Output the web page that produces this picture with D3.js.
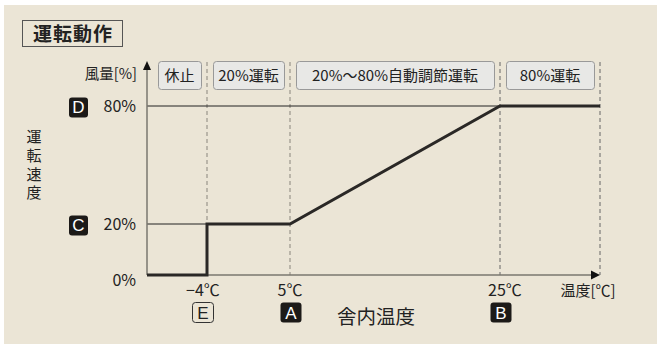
<!DOCTYPE html>
<html>
<head>
<meta charset="utf-8">
<script src="https://cdn.jsdelivr.net/npm/d3@7"></script>
<style>
  body { margin: 0; background: #fff; }
  svg { display: block; font-family: "Noto Sans CJK JP", "Noto Sans", sans-serif; }
</style>
</head>
<body>
<div id="chart"></div>
<script>
// Data
const tempTicks = [-4, 5, 25];                  // °C marks on the x axis
const tempLabels = ["−4℃", "5℃", "25℃"];
const tempBadges = ["E", "A", "B"];
const speedTicks = [0, 20, 80];                 // % marks on the y axis
const speedLabels = ["0%", "20%", "80%"];
const speedBadges = [null, "C", "D"];
const curveTemp = [-10, -4, -4, 5, 25, 35];     // operating curve
const curveSpeed = [0, 0, 20, 20, 80, 80];
const zoneNames = ["休止", "20%運転", "20%～80%自動調節運転", "80%運転"];
const zoneStart = [-10, -4, 5, 25];
const zoneEnd = [-4, 5, 25, 35];

const width = 657, height = 344;

const svg = d3.select("#chart").append("svg")
    .attr("width", width)
    .attr("height", height);

// beige panel
svg.append("rect")
    .attr("x", 4).attr("y", 5)
    .attr("width", width - 4).attr("height", height - 5)
    .attr("fill", "#ebe5d6");

// Scales (the picture is not to scale, so piecewise)
const x = d3.scaleLinear()
    .domain([-10, -4, 5, 25, 35])
    .range([147, 207, 290, 500, 600]);
const y = d3.scaleLinear()
    .domain([0, 20, 80])
    .range([275, 224, 106]);

// Title box
svg.append("rect")
    .attr("x", 22.5).attr("y", 20.5)
    .attr("width", 100).attr("height", 26)
    .attr("fill", "none")
    .attr("stroke", "#555")
    .attr("stroke-width", 1);
svg.append("text")
    .attr("x", 73).attr("y", 41)
    .attr("text-anchor", "middle")
    .attr("font-size", "19px")
    .attr("font-weight", "bold")
    .attr("fill", "#222")
    .attr("letter-spacing", "1px")
    .text("運転動作");

// Dashed zone boundaries
const bounds = [-4, 5, 25, 35];
svg.selectAll(".bound")
    .data(bounds)
    .enter().append("line")
    .attr("x1", d => x(d)).attr("x2", d => x(d))
    .attr("y1", 62)
    .attr("y2", d => d === -4 ? y(20) : y(0))
    .attr("stroke", d => d > 5 ? "#666" : "#aaa59a")
    .attr("stroke-width", d => d > 5 ? 1 : 1.5)
    .attr("stroke-dasharray", "4,3");

// Zone label boxes
const zones = zoneNames.map((name, i) => ({ name, s: zoneStart[i], e: zoneEnd[i] }));
const padL = d => d.s === -10 ? 11 : 6;
const zoneG = svg.selectAll(".zone")
    .data(zones)
    .enter().append("g");
zoneG.append("rect")
    .attr("x", d => x(d.s) + padL(d) + 0.5)
    .attr("y", 61.5)
    .attr("width", d => x(d.e) - x(d.s) - padL(d) - 6)
    .attr("height", 28)
    .attr("rx", 3)
    .attr("fill", "#e8e8e6")
    .attr("stroke", "#999")
    .attr("stroke-width", 1);
zoneG.append("text")
    .attr("x", d => (x(d.s) + padL(d) + x(d.e) - 6) / 2)
    .attr("y", 81)
    .attr("text-anchor", "middle")
    .attr("font-size", "15px")
    .attr("fill", "#222")
    .text(d => d.name);

// Thin guide lines to the 20% and 80% levels
svg.append("line")
    .attr("x1", x(-10)).attr("x2", x(25))
    .attr("y1", y(80)).attr("y2", y(80))
    .attr("stroke", "#222").attr("stroke-width", 1);
svg.append("line")
    .attr("x1", x(-10)).attr("x2", x(-4))
    .attr("y1", y(20)).attr("y2", y(20))
    .attr("stroke", "#222").attr("stroke-width", 1);

// Axes
const axisColor = "#7a776f";
svg.append("line")
    .attr("x1", x(-10)).attr("x2", x(-10))
    .attr("y1", y(0)).attr("y2", 68)
    .attr("stroke", axisColor).attr("stroke-width", 1.5);
svg.append("path")
    .attr("d", `M${x(-10)},61 L${x(-10) - 4},70 L${x(-10) + 4},70 Z`)
    .attr("fill", "#111");
svg.append("line")
    .attr("x1", x(-10)).attr("x2", x(35) - 8)
    .attr("y1", y(0)).attr("y2", y(0))
    .attr("stroke", axisColor).attr("stroke-width", 1.5);
svg.append("path")
    .attr("d", `M${x(35)},${y(0)} L${x(35) - 9},${y(0) - 4.5} L${x(35) - 9},${y(0) + 4.5} Z`)
    .attr("fill", "#111");

// Operating curve
const line = d3.line()
    .x((d, i) => x(curveTemp[i]))
    .y(d => y(d));
svg.append("path")
    .datum(curveSpeed)
    .attr("fill", "none")
    .attr("stroke", "#2a2826")
    .attr("stroke-width", 3)
    .attr("stroke-linejoin", "miter")
    .attr("d", line);

// Y labels
svg.selectAll(".ylab")
    .data(speedTicks)
    .enter().append("text")
    .attr("x", 136)
    .attr("y", d => (d === 0 ? y(d) + 5 : y(d)) + 6)
    .attr("text-anchor", "end")
    .attr("font-size", "16px")
    .attr("fill", "#222")
    .text((d, i) => speedLabels[i]);

svg.append("text")
    .attr("x", 137).attr("y", 79)
    .attr("text-anchor", "end")
    .attr("font-size", "14.5px")
    .attr("fill", "#222")
    .text("風量[%]");

// Y badges (filled)
const yb = speedTicks.map((d, i) => ({ v: d, b: speedBadges[i] })).filter(d => d.b);
const ybG = svg.selectAll(".yb").data(yb).enter().append("g");
ybG.append("rect")
    .attr("x", 69).attr("y", d => y(d.v) - 8.5)
    .attr("width", 19).attr("height", 20)
    .attr("rx", 3)
    .attr("fill", "#1c1a18");
ybG.append("text")
    .attr("x", 78.5).attr("y", d => y(d.v) + 7)
    .attr("text-anchor", "middle")
    .attr("font-size", "17px")
    .attr("font-family", "'Liberation Sans', Arial, sans-serif")
    .attr("fill", "#fff")
    .text(d => d.b);

// Vertical label
svg.append("text")
    .attr("x", 34).attr("y", 129)
    .attr("writing-mode", "vertical-rl")
    .attr("font-size", "15px")
    .attr("letter-spacing", "3.7px")
    .attr("fill", "#222")
    .text("運転速度");

// X labels
const labelShift = d => d === -4 ? -4 : d === 5 ? 0 : 5;
svg.selectAll(".xlab")
    .data(tempTicks)
    .enter().append("text")
    .attr("x", d => x(d) + labelShift(d))
    .attr("y", 296)
    .attr("text-anchor", "middle")
    .attr("font-size", "16px")
    .attr("fill", "#222")
    .text((d, i) => tempLabels[i]);

svg.append("text")
    .attr("x", 588).attr("y", 296)
    .attr("text-anchor", "middle")
    .attr("font-size", "15px")
    .attr("fill", "#222")
    .text("温度[℃]");

// X badges
const xb = tempTicks.map((d, i) => ({ v: d, b: tempBadges[i] }));
const bx = d => x(d.v) + (d.v === -4 ? -4 : 1);
const xbG = svg.selectAll(".xb").data(xb).enter().append("g");
xbG.append("rect")
    .attr("x", d => bx(d) - 10.5)
    .attr("y", 302.5)
    .attr("width", 21).attr("height", 20)
    .attr("rx", 3)
    .attr("fill", d => d.b === "E" ? "none" : "#1c1a18")
    .attr("stroke", d => d.b === "E" ? "#333" : "none")
    .attr("stroke-width", 1);
xbG.append("text")
    .attr("x", d => bx(d))
    .attr("y", 318.5)
    .attr("text-anchor", "middle")
    .attr("font-size", "17px")
    .attr("font-family", "'Liberation Sans', Arial, sans-serif")
    .attr("fill", d => d.b === "E" ? "#222" : "#fff")
    .text(d => d.b);

svg.append("text")
    .attr("x", 376).attr("y", 324)
    .attr("text-anchor", "middle")
    .attr("font-size", "19.5px")
    .attr("fill", "#222")
    .text("舎内温度");
</script>
</body>
</html>
